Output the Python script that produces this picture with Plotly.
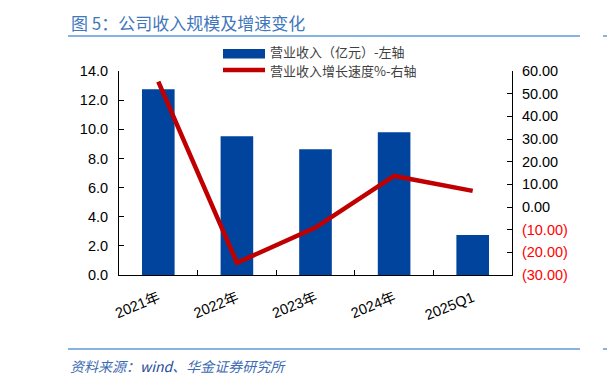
import plotly.graph_objects as go

# ---- data ----
categories = ["2021年", "2022年", "2023年", "2024年", "2025Q1"]
revenue = [12.74, 9.52, 8.63, 9.79, 2.75]          # 营业收入（亿元）
growth = [55.3, -24.6, -9.1, 13.7, 7.1]            # 营业收入增长速度%
left_ticks = [0, 2, 4, 6, 8, 10, 12, 14]
right_ticks = [-30, -20, -10, 0, 10, 20, 30, 40, 50, 60]

W, H = 607, 385
L, R, T, B = 119, 512, 71, 275


def px(x):
    return (x - L) / (R - L)


def py(y):
    return (B - y) / (B - T)


def fmt_right(v):
    if v < 0:
        return "<span style='color:#FF0000'>(%.2f)</span>" % abs(v)
    return "%.2f" % v


NUM_FONT = "Liberation Sans, Arial, sans-serif"
CJK_FONT = "Noto Sans CJK SC, sans-serif"

fig = go.Figure()
fig.add_trace(go.Bar(
    x=categories, y=revenue, name="营业收入（亿元）-左轴",
    marker=dict(color="#00449E", line=dict(width=0)),
    yaxis="y", showlegend=False,
))
fig.add_trace(go.Scatter(
    x=categories, y=growth, name="营业收入增长速度%-右轴",
    mode="lines", line=dict(color="#C00000", width=4.5),
    yaxis="y2", showlegend=False,
))

fig.update_layout(
    width=W, height=H,
    margin=dict(l=L, r=W - R, t=T, b=H - B, pad=0),
    paper_bgcolor="white", plot_bgcolor="white",
    bargap=0.585,
    font=dict(family=NUM_FONT, size=13, color="#000000"),
    xaxis=dict(
        type="category", showline=True, linecolor="#000000", linewidth=1,
        ticks="inside", tickson="boundaries", ticklen=5, tickcolor="#000000",
        tickangle=-22, tickfont=dict(family=NUM_FONT + ", " + CJK_FONT, size=14.5),
        ticklabelstandoff=8,
        showgrid=False, zeroline=False,
    ),
    yaxis=dict(
        range=[0, 14], tickvals=left_ticks,
        ticktext=["%.1f" % v for v in left_ticks],
        showline=True, linecolor="#000000", linewidth=1,
        ticks="inside", ticklen=5, tickcolor="#000000",
        showgrid=False, zeroline=False, ticklabelstandoff=7,
        tickfont=dict(size=14.5),
    ),
    yaxis2=dict(
        range=[-30, 60], tickvals=right_ticks,
        ticktext=[fmt_right(v) for v in right_ticks],
        overlaying="y", side="right",
        showline=True, linecolor="#000000", linewidth=1,
        ticks="inside", ticklen=5, tickcolor="#000000",
        showgrid=False, zeroline=False, ticklabelstandoff=6,
        tickfont=dict(size=14.5),
    ),
)

shapes = []
annotations = []

# title + separators
annotations.append(dict(
    x=px(69), y=py(23), xref="paper", yref="paper", xanchor="left", yanchor="middle",
    text="图 5：公司收入规模及增速变化", showarrow=False,
    font=dict(family=CJK_FONT, size=17, color="#3F77BD"),
))
for yy in (36, 349):
    shapes.append(dict(type="line", xref="paper", yref="paper",
                       x0=px(68), x1=px(580), y0=py(yy), y1=py(yy),
                       line=dict(color="#5B9BD5", width=1.5)))
    shapes.append(dict(type="line", xref="paper", yref="paper",
                       x0=px(603), x1=px(610), y0=py(yy), y1=py(yy),
                       line=dict(color="#5B9BD5", width=1.5)))

annotations.append(dict(
    x=px(68), y=py(366), xref="paper", yref="paper", xanchor="left", yanchor="middle",
    text="<i>资料来源：<span style='color:#1F4E9C'>wind</span>、华金证券研究所</i>",
    showarrow=False,
    font=dict(family=CJK_FONT, size=14, color="#3D6BB3"),
))

# legend (manual)
shapes.append(dict(type="rect", xref="paper", yref="paper",
                   x0=px(223), x1=px(265), y0=py(58.5), y1=py(49),
                   fillcolor="#00449E", line=dict(width=0)))
shapes.append(dict(type="line", xref="paper", yref="paper",
                   x0=px(223), x1=px(265), y0=py(70), y1=py(70),
                   line=dict(color="#C00000", width=4.5)))
annotations.append(dict(
    x=px(268), y=py(51.5), xref="paper", yref="paper", xanchor="left", yanchor="middle",
    text="营业收入（亿元）-左轴", showarrow=False,
    font=dict(family=CJK_FONT, size=13, color="#404040"),
))
annotations.append(dict(
    x=px(268), y=py(70.5), xref="paper", yref="paper", xanchor="left", yanchor="middle",
    text="营业收入增长速度%-右轴", showarrow=False,
    font=dict(family=CJK_FONT, size=13, color="#404040"),
))

fig.update_layout(shapes=shapes, annotations=annotations)
fig.write_html("out.html")
